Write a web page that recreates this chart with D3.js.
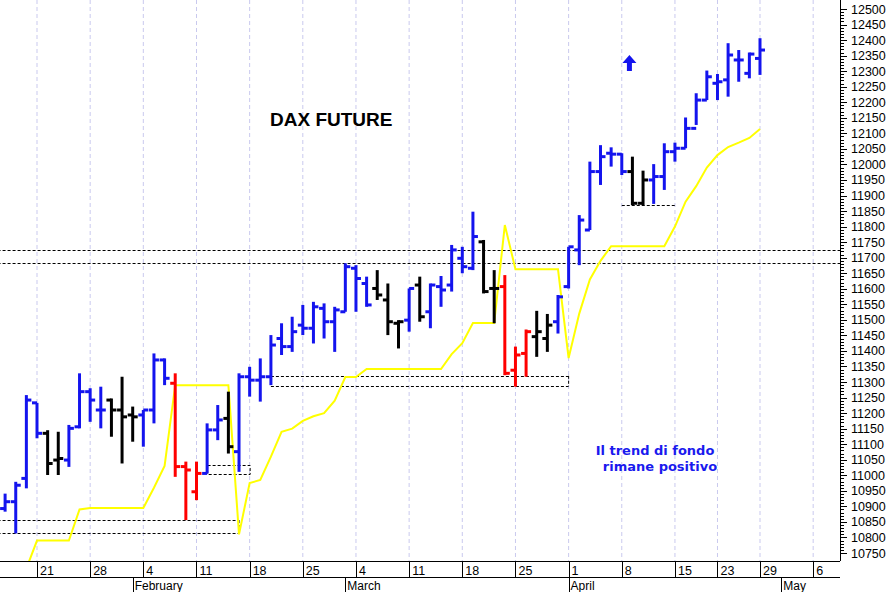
<!DOCTYPE html>
<html><head><meta charset="utf-8">
<script src="https://cdn.jsdelivr.net/npm/d3@7"></script>
<style>body{margin:0;background:#fff}svg{display:block;font-family:Arial,"Liberation Sans",sans-serif}</style>
</head><body><svg id="chart"></svg>
<script>
// trading days shown, with colour code: b blue, k black, r red
const dates = ['2019-01-16','2019-01-17','2019-01-18','2019-01-21','2019-01-22','2019-01-23','2019-01-24','2019-01-25',
  '2019-01-28','2019-01-29','2019-01-30','2019-01-31','2019-02-01','2019-02-04','2019-02-05','2019-02-06','2019-02-07','2019-02-08',
  '2019-02-11','2019-02-12','2019-02-13','2019-02-14','2019-02-15','2019-02-18','2019-02-19','2019-02-20','2019-02-21','2019-02-22',
  '2019-02-25','2019-02-26','2019-02-27','2019-02-28','2019-03-01','2019-03-04','2019-03-05','2019-03-06','2019-03-07','2019-03-08',
  '2019-03-11','2019-03-12','2019-03-13','2019-03-14','2019-03-15','2019-03-18','2019-03-19','2019-03-20','2019-03-21','2019-03-22',
  '2019-03-25','2019-03-26','2019-03-27','2019-03-28','2019-03-29','2019-04-01','2019-04-02','2019-04-03','2019-04-04','2019-04-05',
  '2019-04-08','2019-04-09','2019-04-10','2019-04-11','2019-04-12','2019-04-15','2019-04-16','2019-04-17','2019-04-18',
  '2019-04-23','2019-04-24','2019-04-25','2019-04-26','2019-04-29'];
const opens  = [10893,10915,10990,11233,11135,11049,11049,11156, 11269,11210,11242,11210,11194,11194,11210,11371,11296,11028,
  10947,11006,11146,11183,11076,11317,11306,11317,11440,11414, 11483,11473,11537,11494,11526,11666,11617,11601,11564,11489,
  11499,11612,11526,11607,11612,11698,11666,11751,11601,11607, 11338,11392,11446,11440,11494,11607,11725,11789,11977,12036,
  12033,11977,11875,11950,11961,12041,12052,12116,12207, 12261,12272,12336,12293,12341];
const highs  = [10941,10979,11258,11233,11145,11140,11162,11328, 11280,11285,11247,11317,11221,11210,11392,11376,11328,11044,
  11044,11167,11226,11269,11328,11349,11376,11451,11489,11510, 11548,11558,11553,11542,11682,11676,11639,11660,11617,11499,
  11601,11639,11617,11641,11741,11735,11848,11757,11660,11644, 11414,11469,11529,11519,11580,11735,11837,12009,12062,12055,
  12036,12025,11980,12001,12068,12070,12151,12229,12302, 12291,12390,12368,12360,12406];
const lows   = [10883,10813,10958,11119,11001,11001,11027,11151, 11172,11151,11124,11038,11108,11092,11167,11290,10995,10856,
  10920,11006,11113,11070,11011,11253,11237,11290,11387,11397, 11451,11424,11440,11397,11526,11526,11542,11564,11451,11408,
  11462,11494,11473,11542,11591,11650,11660,11585,11489,11322, 11285,11317,11381,11397,11456,11601,11676,11789,11934,11993,
  11966,11869,11869,11873,11918,12009,12052,12127,12207, 12207,12218,12266,12277,12288];
const closes = [10915,10968,11242,11135,11038,11054,11151,11269, 11242,11210,11210,11188,11188,11210,11371,11312,11028,11017,
  11006,11146,11178,11092,11317,11306,11317,11419,11414,11462, 11473,11542,11494,11532,11671,11633,11548,11580,11494,11494,
  11601,11510,11612,11596,11725,11671,11768,11591,11601,11328, 11387,11462,11462,11483,11574,11735,11821,11977,12025,12033,
  11977,11875,11950,11961,12041,12052,12116,12207,12282, 12266,12352,12336,12355,12368];
const colours = 'bbbbkkbbbbkkkbbbrrrbbkbbbbbbbbbbbbbkkkbkbbbbbkkrrrkkbbbbbbbkkbbbbbbbbbbbb';

// trailing stop (yellow)
const stopDates = ['2019-01-18','2019-01-21','2019-01-24','2019-01-25','2019-01-28','2019-02-04','2019-02-05','2019-02-06','2019-02-07',
  '2019-02-14','2019-02-15','2019-02-18','2019-02-19','2019-02-20','2019-02-21','2019-02-22','2019-02-25','2019-02-26','2019-02-27',
  '2019-02-28','2019-03-01','2019-03-04','2019-03-05','2019-03-14','2019-03-15','2019-03-18','2019-03-19','2019-03-21','2019-03-22',
  '2019-03-25','2019-03-29','2019-04-01','2019-04-02','2019-04-03','2019-04-04','2019-04-05','2019-04-12','2019-04-15','2019-04-16',
  '2019-04-17','2019-04-18','2019-04-23','2019-04-24','2019-04-25','2019-04-26','2019-04-29'];
const stopValues = [10700,10790,10790,10890,10895,10895,10960,11030,11290, 11290,10810,10975,10985,11060,11140,11150,11175,11190,11200,
  11240,11316,11316,11342,11342,11390,11425,11490,11490,11805, 11663,11663,11377,11520,11630,11690,11737,11737,11800,11880,
  11930,11990,12030,12056,12070,12085,12114];

// dashed support/resistance levels: [from date, to date, value]
const levels = [
  ['2019-01-10','2019-05-10',11725], ['2019-01-10','2019-05-10',11682],
  ['2019-01-10','2019-02-15',10856], ['2019-01-10','2019-02-15',10814],
  ['2019-02-20','2019-04-01',11320], ['2019-02-20','2019-04-01',11287],
  ['2019-04-08','2019-04-15',11869]];
const boxes = [['2019-02-12','2019-02-18',11033,11004]];

const weekLabels = [['2019-01-21','21'],['2019-01-28','28'],['2019-02-04','4'],['2019-02-11','11'],['2019-02-18','18'],
  ['2019-02-25','25'],['2019-03-04','4'],['2019-03-11','11'],['2019-03-18','18'],['2019-03-25','25'],['2019-04-01','1'],
  ['2019-04-08','8'],['2019-04-15','15'],['2019-04-23','23'],['2019-04-29','29'],['2019-05-06','6']];
const monthLabels = [['2019-02-01','February'],['2019-03-01','March'],['2019-04-01','April'],['2019-05-01','May']];
const yTicks = d3.range(10750, 12501, 50);

const W = 889, H = 592, plotR = 840, plotB = 561;
const svg = d3.select('#chart').attr('width', W).attr('height', H);

// trading-day index (weekends and Easter holidays skipped)
const holidays = new Set(['2019-04-19','2019-04-22']);
const fmt = d3.utcFormat('%Y-%m-%d');
const allDays = d3.utcDays(new Date('2019-01-07'), new Date('2019-05-15'))
  .filter(d => d.getUTCDay() % 6 !== 0 && !holidays.has(fmt(d))).map(fmt);
const idx = s => allDays.indexOf(s);

const x = d3.scaleLinear().domain([idx('2019-01-21'), idx('2019-04-29')]).range([37, 760]);
const y = d3.scaleLinear().domain([10750, 12500]).range([553, 9]);

svg.append('defs').append('clipPath').attr('id', 'clip')
  .append('rect').attr('x', 0).attr('y', 0).attr('width', plotR).attr('height', plotB);
const plot = svg.append('g').attr('clip-path', 'url(#clip)');

// vertical week grid
plot.selectAll('.grid').data(weekLabels).enter().append('line')
  .attr('x1', d => x(idx(d[0]))).attr('x2', d => x(idx(d[0])))
  .attr('y1', 0).attr('y2', plotB)
  .attr('stroke', '#c9c9ee').attr('stroke-dasharray', '4,3');

// dashed levels
plot.selectAll('.lvl').data(levels).enter().append('line')
  .attr('x1', d => x(idx(d[0]) === -1 ? -10 : idx(d[0]))).attr('x2', d => x(idx(d[1]) === -1 ? 90 : idx(d[1])))
  .attr('y1', d => Math.round(y(d[2])) + 0.5).attr('y2', d => Math.round(y(d[2])) + 0.5)
  .attr('stroke', '#000').attr('stroke-dasharray', '3,2');
plot.selectAll('.box').data(boxes).enter().append('rect')
  .attr('x', d => x(idx(d[0])) + 0.5).attr('width', d => x(idx(d[1])) - x(idx(d[0])))
  .attr('y', d => Math.round(y(d[2])) + 0.5).attr('height', d => y(d[3]) - y(d[2]))
  .attr('fill', 'none').attr('stroke', '#000').attr('stroke-dasharray', '3,2');
// end caps of the long dashed zones
[['2019-02-15',10856,10814],['2019-04-01',11320,11287]].forEach(c => {
  plot.append('line').attr('x1', x(idx(c[0]))).attr('x2', x(idx(c[0])))
    .attr('y1', y(c[1])).attr('y2', y(c[2])).attr('stroke', '#000').attr('stroke-dasharray', '3,2');
});

// yellow stop line
plot.append('path')
  .datum(stopDates.map((d, i) => [x(idx(d)), y(stopValues[i])]))
  .attr('d', d3.line()).attr('fill', 'none').attr('stroke', '#ffff00').attr('stroke-width', 2);

// OHLC bars
const colourOf = {b: '#1414ee', k: '#000000', r: '#ff0000'};
const bars = plot.selectAll('.bar').data(dates).enter().append('g')
  .attr('stroke', (d, i) => colourOf[colours[i]]).attr('stroke-width', 3);
bars.append('line').attr('x1', d => x(idx(d))).attr('x2', d => x(idx(d)))
  .attr('y1', (d, i) => y(highs[i])).attr('y2', (d, i) => y(lows[i]));
bars.append('line').attr('x1', d => x(idx(d)) - 5).attr('x2', d => x(idx(d)))
  .attr('y1', (d, i) => y(opens[i])).attr('y2', (d, i) => y(opens[i]));
bars.append('line').attr('x1', d => x(idx(d))).attr('x2', d => x(idx(d)) + 5)
  .attr('y1', (d, i) => y(closes[i])).attr('y2', (d, i) => y(closes[i]));

// texts
svg.append('text').attr('x', 270).attr('y', 126).attr('font-size', 19).attr('font-weight', 'bold')
  .attr('fill', '#000').text('DAX FUTURE');
const note = svg.append('text').attr('font-size', 13).attr('font-weight', 'bold').attr('fill', '#1a1aee')
  .attr('text-anchor', 'middle').attr('font-family', 'Tahoma, "DejaVu Sans", sans-serif');
note.append('tspan').attr('x', 655).attr('y', 455).text('Il trend di fondo');
note.append('tspan').attr('x', 660).attr('y', 471).text('rimane positivo');
// up arrow
const ax = x(idx('2019-04-09')) - 3;
svg.append('path').attr('fill', '#1414ee')
  .attr('d', `M${ax},55 L${ax + 7},63 L${ax + 2.5},63 L${ax + 2.5},71 L${ax - 2.5},71 L${ax - 2.5},63 L${ax - 7},63 Z`);

// right axis
const yAxis = svg.append('g').attr('transform', `translate(${plotR},0)`);
yAxis.append('line').attr('x1', 0.5).attr('x2', 0.5).attr('y1', 0).attr('y2', plotB).attr('stroke', '#000');
yAxis.selectAll('.minor').data(d3.range(10750, 12501, 10)).enter().append('line')
  .attr('x1', 0).attr('x2', d => d % 50 === 0 ? 7 : 4)
  .attr('y1', d => Math.round(y(d)) + 0.5).attr('y2', d => Math.round(y(d)) + 0.5).attr('stroke', '#000');
yAxis.selectAll('text').data(yTicks).enter().append('text')
  .attr('x', 11).attr('y', d => y(d) + 4.5).attr('font-size', 12.5).text(d => d);

// bottom axis
const bx = svg.append('g');
bx.append('line').attr('x1', 0).attr('x2', plotR).attr('y1', plotB + 0.5).attr('y2', plotB + 0.5).attr('stroke', '#000');
bx.append('line').attr('x1', 0).attr('x2', plotR).attr('y1', 577.5).attr('y2', 577.5).attr('stroke', '#000');
bx.selectAll('.wk').data(weekLabels).enter().append('line')
  .attr('x1', d => Math.round(x(idx(d[0]))) + 0.5).attr('x2', d => Math.round(x(idx(d[0]))) + 0.5)
  .attr('y1', plotB).attr('y2', 577).attr('stroke', '#000');
bx.selectAll('.wkt').data(weekLabels).enter().append('text')
  .attr('x', d => x(idx(d[0])) + 3).attr('y', 575).attr('font-size', 12.5).text(d => d[1]);
bx.selectAll('.mo').data(monthLabels).enter().append('line')
  .attr('x1', d => Math.round(x(idx(d[0]))) + 0.5).attr('x2', d => Math.round(x(idx(d[0]))) + 0.5)
  .attr('y1', 577).attr('y2', H).attr('stroke', '#000');
bx.selectAll('.mot').data(monthLabels).enter().append('text')
  .attr('x', d => x(idx(d[0])) + 2).attr('y', 590).attr('font-size', 12).text(d => d[1]);
</script></body></html>
